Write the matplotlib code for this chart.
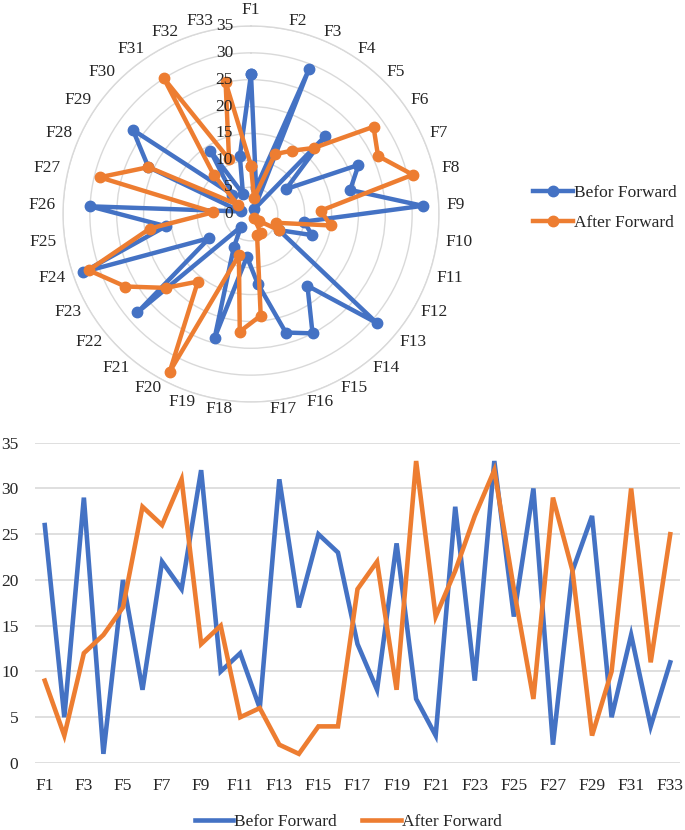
import numpy as np
import matplotlib
matplotlib.use('Agg')
import matplotlib.pyplot as plt
from matplotlib.lines import Line2D

plt.rcParams['font.family'] = ['Liberation Serif', 'DejaVu Serif']

categories = ["F1", "F2", "F3", "F4", "F5", "F6", "F7", "F8", "F9", "F10", "F11",
              "F12", "F13", "F14", "F15", "F16", "F17", "F18", "F19", "F20", "F21",
              "F22", "F23", "F24", "F25", "F26", "F27", "F28", "F29", "F30", "F31",
              "F32", "F33"]
before = [26, 5, 29, 1, 20, 8, 22, 19, 32, 10, 12, 6, 31, 17, 25, 23, 13, 8, 24, 7,
          3, 28, 9, 33, 16, 30, 2, 21, 27, 5, 14, 4, 11]
after = [9, 3, 12, 14, 17, 28, 26, 31, 13, 15, 5, 6, 2, 1, 4, 4, 19, 22, 8, 33,
         16, 21, 27, 32, 19, 7, 29, 21, 3, 10, 30, 11, 25]
series_names = ["Befor Forward", "After Forward"]
r_ticks = [0, 5, 10, 15, 20, 25, 30, 35]

BLUE = '#4472C4'
ORANGE = '#ED7D31'
GRID = '#D9D9D9'
TXT = '#262626'
FS = 12.5

W, H = 685, 830
fig = plt.figure(figsize=(W / 100, H / 100), dpi=100)

# ---------------- Radar chart ----------------
cx, cy, R = 251, 214, 188
ax = fig.add_axes([(cx - R) / W, 1 - (cy + R) / H, 2 * R / W, 2 * R / H], projection='polar')
ax.set_theta_zero_location('N')
ax.set_theta_direction(-1)
n = len(categories)
theta = np.arange(n) * 2 * np.pi / n
th_closed = np.concatenate([theta, theta[:1]])
for vals, col in [(before, BLUE), (after, ORANGE)]:
    v = np.array(list(vals) + [vals[0]])
    ax.plot(th_closed, v, color=col, lw=3.2, marker='o', markersize=7.5, zorder=3,
            solid_joinstyle='round')
ax.set_ylim(0, 35)
ax.set_yticks(r_ticks)
ax.set_yticklabels([])
ax.set_xticks(theta)
ax.set_xticklabels([])
ax.xaxis.grid(False)
ax.yaxis.grid(True, color=GRID, lw=1)
ax.spines['polar'].set_color(GRID)
ax.spines['polar'].set_linewidth(1)
ax.set_facecolor('none')
for r in r_ticks:
    ax.annotate(str(r), xy=(0, r), xytext=(-13, 0), textcoords='offset points',
                ha='right', va='center', fontsize=FS, color=TXT, zorder=4)
r_lab = 36.5
for t, lab in zip(theta, categories):
    s = np.sin(t)
    if s > 1e-6:
        ha, va = 'left', 'center'
    elif s < -1e-6:
        ha, va = 'right', 'center'
    else:
        ha, va = 'center', 'bottom'
    ax.text(t, r_lab, lab, ha=ha, va=va, fontsize=FS, color=TXT, clip_on=False)

handles = [Line2D([], [], color=BLUE, lw=3.2, marker='o', markersize=7.5),
           Line2D([], [], color=ORANGE, lw=3.2, marker='o', markersize=7.5)]
fig.legend(handles, series_names, loc='center left',
           bbox_to_anchor=(524 / W, 1 - 208 / H), frameon=False, fontsize=FS,
           handlelength=2.3, handletextpad=0.1, labelspacing=0.75,
           labelcolor=TXT, borderpad=0)

# ---------------- Line chart ----------------
left, right, top, bottom = 35, 680, 442.7, 763
ax2 = fig.add_axes([left / W, 1 - bottom / H, (right - left) / W, (bottom - top) / H])
x = np.arange(n)
ax2.plot(x, before, color=BLUE, lw=3.3, solid_joinstyle='miter', zorder=3)
ax2.plot(x, after, color=ORANGE, lw=3.3, solid_joinstyle='miter', zorder=3)
ax2.set_xlim(-0.5, n - 0.5)
ax2.set_ylim(0, 35)
ax2.set_yticks(r_ticks)
ax2.set_xticks(x[::2])
ax2.set_xticklabels(categories[::2])
ax2.tick_params(axis='both', length=0, labelsize=FS, colors=TXT)
ax2.tick_params(axis='x', pad=11)
ax2.tick_params(axis='y', pad=12)
ax2.yaxis.grid(True, color=GRID, lw=1.2)
ax2.set_axisbelow(True)
for s in ax2.spines.values():
    s.set_visible(False)
ax2.set_facecolor('none')
fig.legend([Line2D([], [], color=BLUE, lw=3.3), Line2D([], [], color=ORANGE, lw=3.3)],
           series_names, loc='center', bbox_to_anchor=(348 / W, 1 - 822 / H),
           ncol=2, frameon=False, fontsize=FS, handlelength=2.2, handletextpad=0.05,
           columnspacing=1.5, labelcolor=TXT, borderpad=0)

fig.savefig('out.png', dpi=100, facecolor='white')
